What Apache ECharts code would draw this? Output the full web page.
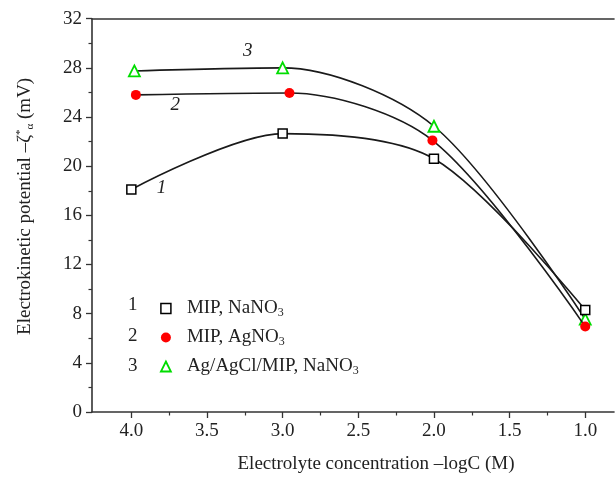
<!DOCTYPE html>
<html>
<head>
<meta charset="utf-8">
<script src="https://cdn.jsdelivr.net/npm/echarts@6/dist/echarts.min.js"></script>
<style>html,body{margin:0;padding:0;background:#fff}#c{width:615px;height:479px}</style>
</head>
<body>
<div id="c"></div>
<script>
// ---- data ----
const seriesNames = ['MIP, NaNO', 'MIP, AgNO', 'Ag/AgCl/MIP, NaNO'];
const seriesSub = ['3', '3', '3'];
const s1x = [4.0, 3.0, 2.0, 1.0];
const s1y = [18.1, 22.65, 20.6, 8.3];
const s2x = [3.97, 2.955, 2.01, 1.0];
const s2y = [25.8, 25.95, 22.1, 6.95];
const s3x = [3.98, 3.0, 2.0, 1.0];
const s3y = [27.75, 28.0, 23.25, 7.55];
const xTicks = [4.0, 3.5, 3.0, 2.5, 2.0, 1.5, 1.0];
const xMinorTicks = [3.75, 3.25, 2.75, 2.25, 1.75, 1.25];
const yTicks = [0, 4, 8, 12, 16, 20, 24, 28, 32];
const curveLabels = ['1', '2', '3'];
const curveLabelPos = [[3.80, 18.2], [3.71, 25.0], [3.23, 29.4]];

const FONT = 'Liberation Serif';
const FS = 19;
const chart = echarts.init(document.getElementById('c'));
const zip = (xs, ys) => xs.map((x, i) => [x, ys[i]]);

const markers = [
  {symbol: 'rect', size: 9, itemStyle: {color: '#fff', borderColor: '#000', borderWidth: 1.5}},
  {symbol: 'circle', size: 10, itemStyle: {color: '#ff0000', borderColor: '#ff0000', borderWidth: 0}},
  {symbol: 'triangle', size: 11, itemStyle: {color: '#fff', borderColor: '#00dd00', borderWidth: 1.8}}
];
const datas = [zip(s1x, s1y), zip(s2x, s2y), zip(s3x, s3y)];

const series = datas.map((d, i) => ({
  name: seriesNames[i],
  type: 'line',
  data: d,
  smooth: 0.3,
  symbol: markers[i].symbol,
  symbolSize: markers[i].size,
  itemStyle: markers[i].itemStyle,
  lineStyle: {color: '#1a1a1a', width: 1.6},
  z: 3 - i,
  markPoint: {
    symbol: 'circle', symbolSize: 0,
    label: {show: true, formatter: curveLabels[i], fontFamily: FONT, fontStyle: 'italic', fontSize: FS, color: '#222'},
    data: [{coord: curveLabelPos[i]}]
  }
}));

const xMin = 0.81, xMax = 4.26;

chart.setOption({
  animation: false,
  backgroundColor: '#fff',
  grid: {left: 92, right: 1, top: 18.7, bottom: 66},
  legend: {
    orient: 'vertical', left: 155, top: 294, itemGap: 9,
    itemWidth: 10, itemHeight: 10,
    data: seriesNames.map((n, i) => ({name: n, icon: markers[i].symbol, itemStyle: markers[i].itemStyle})),
    formatter: n => { const i = seriesNames.indexOf(n); return '{t|' + n + '}{s|' + seriesSub[i] + '}'; },
    textStyle: {
      padding: [0, 0, 0, 11],
      rich: {
        t: {fontFamily: FONT, fontSize: FS, color: '#222'},
        s: {fontFamily: FONT, fontSize: 12, color: '#222', verticalAlign: 'bottom', padding: [9, 0, 0, 0]}
      }
    }
  },
  graphic: curveLabels.map((t, i) => ({
    type: 'text', left: 128, top: 296 + i * 30.3,
    style: {text: t, fontFamily: FONT, fontSize: FS, fill: '#222'}
  })),
  xAxis: [
    {
      type: 'value', inverse: true, min: xMin, max: xMax, position: 'bottom',
      name: 'Electrolyte concentration \u2013logC (M)', nameLocation: 'middle', nameGap: 43,
      nameTextStyle: {fontFamily: FONT, fontSize: FS, color: '#222', padding: [0, 0, 0, 46]},
      axisLine: {show: true, onZero: false, lineStyle: {color: '#333', width: 1.6}},
      axisTick: {show: true, customValues: xTicks, length: 6, inside: false, lineStyle: {color: '#333', width: 1.3}},
      axisLabel: {show: true, customValues: xTicks, formatter: v => v.toFixed(1), fontFamily: FONT, fontSize: FS, color: '#222', margin: 10},
      splitLine: {show: false}
    },
    {
      type: 'value', inverse: true, min: xMin, max: xMax, position: 'bottom',
      axisLine: {show: false, onZero: false},
      axisTick: {show: true, customValues: xMinorTicks, length: 3.5, lineStyle: {color: '#333', width: 1.2}},
      axisLabel: {show: false},
      splitLine: {show: false}
    },
    {
      type: 'value', inverse: true, min: xMin, max: xMax, position: 'top',
      axisLine: {show: true, onZero: false, lineStyle: {color: '#333', width: 1.6}},
      axisTick: {show: false}, axisLabel: {show: false}, splitLine: {show: false}
    }
  ],
  yAxis: {
    type: 'value', min: 0, max: 32, interval: 4,
    name: '{t|Electrokinetic potential \u2013\u03b6}{sp|*}{sb|\u03b1}{t| (mV)}',
    nameLocation: 'middle', nameGap: 56, nameRotate: 90,
    nameTextStyle: {
      padding: [0, 0, 0, 18],
      rich: {
        t: {fontFamily: FONT, fontSize: FS, color: '#222'},
        sp: {fontFamily: FONT, fontSize: 11, color: '#222', verticalAlign: 'top', padding: [0, 0, 10, 0]},
        sb: {fontFamily: FONT, fontSize: 11, color: '#222', verticalAlign: 'bottom', padding: [9, 0, 0, 0]}
      }
    },
    axisLine: {show: true, lineStyle: {color: '#333', width: 1.6}},
    axisTick: {show: true, length: 6, lineStyle: {color: '#333', width: 1.3}},
    minorTick: {show: true, splitNumber: 2, length: 3.5, lineStyle: {color: '#333', width: 1.2}},
    axisLabel: {fontFamily: FONT, fontSize: FS, color: '#222', margin: 10, customValues: yTicks},
    splitLine: {show: false}
  },
  series: series
});
</script>
</body>
</html>
